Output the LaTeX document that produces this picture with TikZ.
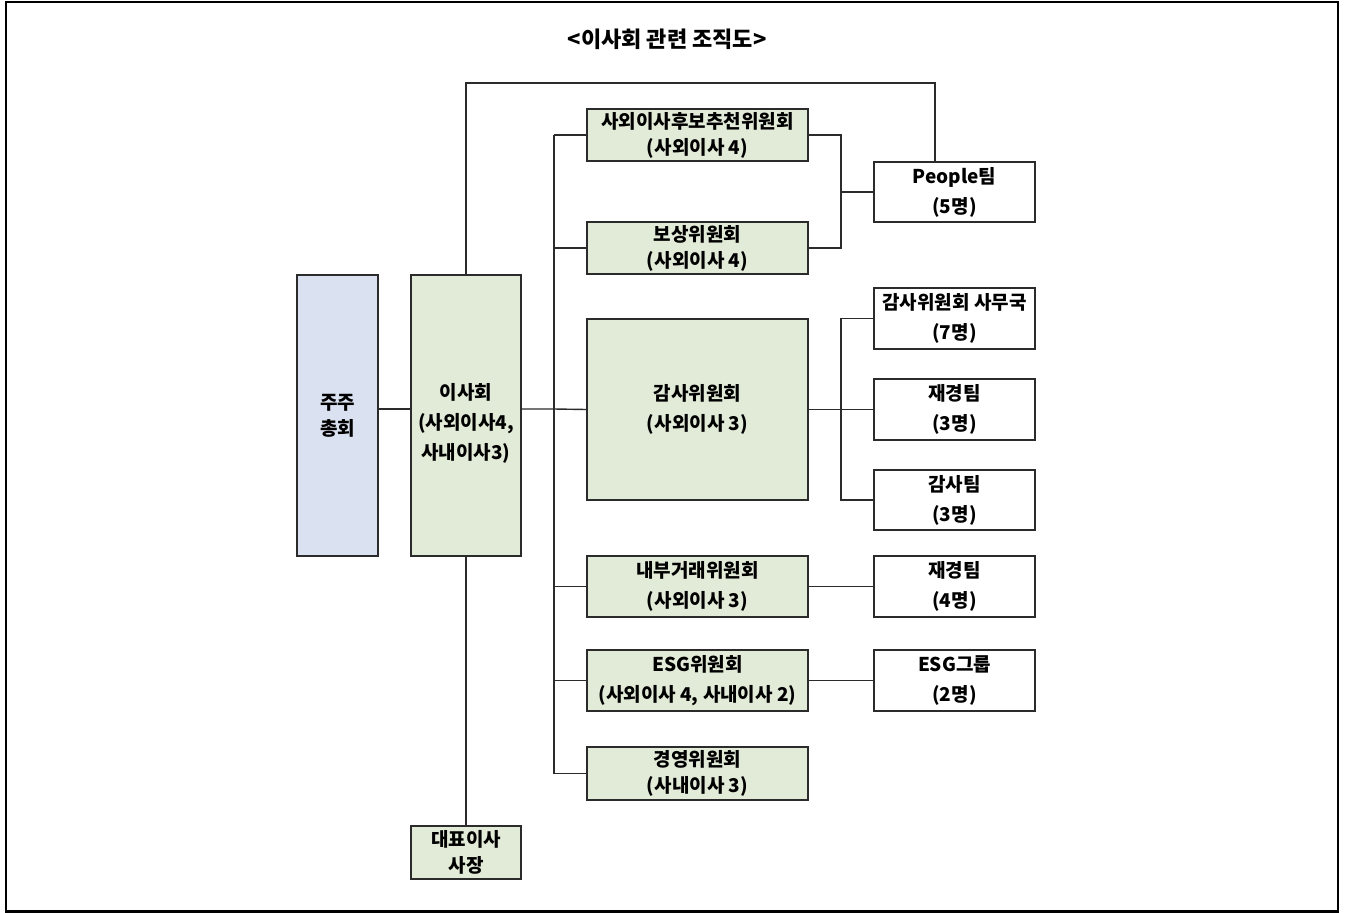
\documentclass[tikz,border=0pt]{standalone}
\usepackage{fontspec}
\setmainfont{Noto Sans CJK KR}
\definecolor{boxgreen}{HTML}{E2EBD8}
\definecolor{boxblue}{HTML}{DAE2F1}
\definecolor{edge}{HTML}{2B2B2B}
\tikzset{
  base/.style={draw=edge, line width=1.4pt, inner sep=0pt, align=center, font=\bfseries},
  l26/.style={font=\fontsize{19}{26}\selectfont\bfseries},
  l30/.style={font=\fontsize{19}{30}\selectfont\bfseries},
  green/.style={base, fill=boxgreen},
  blue/.style={base, fill=boxblue},
  white/.style={base, fill=white},
  conn/.style={draw=edge, line width=1.4pt},
}
\newcommand{\bx}[7]{% style, name, x1, y1, x2, y2, text
  \node[#1, minimum width={(#5-#3)*1pt}, minimum height={(#6-#4)*1pt}] (#2) at ({(#3+#5)/2},{(#4+#6)/2}) {#7};}
\begin{document}
\begin{tikzpicture}[x=1pt, y=-1pt]
\useasboundingbox (0,0) rectangle (1345,913);
\draw[line width=2.2pt] (6,2) rectangle (1338,911.5);
\node[font=\fontsize{22}{26}\selectfont\bfseries] (title) at (667,39) {<이사회 관련 조직도>};

\bx{blue,l26}{agm}{297}{275}{378}{556}{주주\\총회}
\bx{green,l30}{board}{411}{275}{521}{556}{}
\node[l30, align=center, inner sep=0pt] (boardtxt) at (466,423) {이사회\\(사외이사4,\\사내이사3)};
\bx{green,l26}{ceo}{411}{826}{521}{879}{대표이사\\사장}

\bx{green,l26}{c1}{587}{109}{808}{161}{사외이사후보추천위원회\\(사외이사 4)}
\bx{green,l26}{c2}{587}{222}{808}{274}{보상위원회\\(사외이사 4)}
\bx{green,l30}{c3}{587}{319}{808}{500}{감사위원회\\(사외이사 3)}
\bx{green,l30}{c4}{587}{556}{808}{617}{내부거래위원회\\(사외이사 3)}
\bx{green,l30}{c5}{587}{650}{808}{711}{ESG위원회\\(사외이사 4, 사내이사 2)}
\bx{green,l26}{c6}{587}{747}{808}{800}{경영위원회\\(사내이사 3)}

\bx{white,l30}{people}{874}{162}{1035}{222}{People팀\\(5명)}
\bx{white,l30}{audsec}{874}{288}{1035}{349}{감사위원회 사무국\\(7명)}
\bx{white,l30}{fin3}{874}{379}{1035}{440}{재경팀\\(3명)}
\bx{white,l30}{audteam}{874}{470}{1035}{530}{감사팀\\(3명)}
\bx{white,l30}{fin4}{874}{556}{1035}{617}{재경팀\\(4명)}
\bx{white,l30}{esg}{874}{650}{1035}{711}{ESG그룹\\(2명)}

\coordinate (bus) at (554,409);
\coordinate (rbus1) at (841,192);
\coordinate (rbus2) at (841,409);
\coordinate (top) at (935,83);

\draw[conn] (agm.east |- bus) -- (board.west |- bus);
\draw[conn] (board.east |- bus) -- (bus) -- (c3.west);
\draw[conn] (board.south) -- (ceo.north);
\draw[conn] (board.north) |- (top) -- (top |- people.north);
\draw[conn] (bus |- c1.west) -- (bus |- c6.west);
\foreach \c in {c1,c2,c4,c5,c6} \draw[conn] (bus |- \c.west) -- (\c.west);
\draw[conn] (c1.east) -| (rbus1) |- (c2.east);
\draw[conn] (rbus1) -- (people.west);
\draw[conn] (c3.east) -- (fin3.west);
\draw[conn] (audsec.west) -| (rbus2) |- (audteam.west);
\draw[conn] (c4.east) -- (fin4.west);
\draw[conn] (c5.east) -- (esg.west);
\end{tikzpicture}
\end{document}
